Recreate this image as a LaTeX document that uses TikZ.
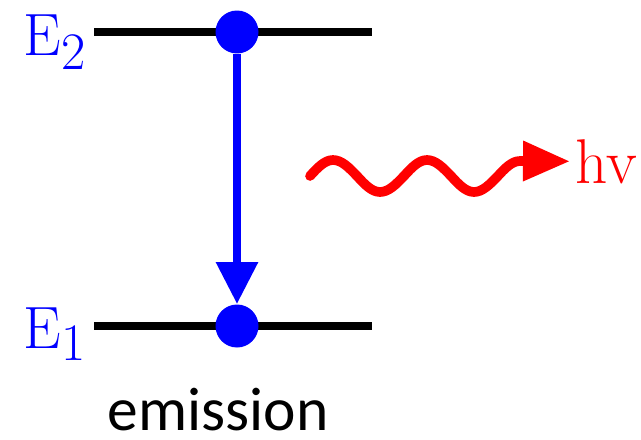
\documentclass[tikz,border=0pt]{standalone}
\definecolor{levelblue}{RGB}{0, 0, 255}
\definecolor{photonred}{RGB}{255, 0, 0}
\usepackage{fontspec}
\newfontfamily\calibri{Carlito}
\usepackage{tikz}
\usetikzlibrary{arrows.meta, positioning}

\begin{document}
\begin{tikzpicture}[x=0.02cm, y=-0.02cm,
        level/.style={line width=4.2pt},
        electron/.style={circle, fill=levelblue, inner sep=0pt, minimum size=0.86cm},
        elabel/.style={text=levelblue, inner sep=0pt, font=\fontsize{34}{34}\selectfont}]
            \useasboundingbox (0,0) rectangle (641,439);
            \coordinate (upL) at (94,32);
            \coordinate (upR) at (372,32);
            \coordinate (lowL) at (94,326);
            \coordinate (lowR) at (372,326);
            \draw[level] (upL) -- (upR);
            \draw[level] (lowL) -- (lowR);
            \node[electron] (up) at (237,32) {};
            \node[electron] (low) at (237,326) {};
            \draw[levelblue, line width=5pt, -{Triangle[length=0.84cm, width=0.8cm]}] (up) -- (low);
            \node[elabel, anchor=base east] (E2) at (86,55) {E\raisebox{-0.3cm}{\fontsize{30}{30}\selectfont 2}};
            \node[elabel, anchor=base east] (E1) at (86,348) {E\raisebox{-0.24cm}{\fontsize{30}{30}\selectfont 1}};
            \node[text=photonred, font=\fontsize{36}{36}\selectfont, anchor=base west, inner sep=3pt] (hv) at (570,183) {hv};
            \coordinate (waveStart) at (310,176);
            \draw[photonred, line width=5.5pt, line cap=round, -{Triangle[length=0.94cm, width=0.76cm]}]
                (waveStart) sin (333,160) cos (357,176) sin (380,192) cos (404,176)
                sin (427,160) cos (451,176) sin (474,192) cos (497,177) sin (520,161) -- (hv.west);
            \node[font=\calibri\fontsize{35}{35}\selectfont, anchor=base, inner sep=0pt] (emis) at (218,430) {emission};
        \end{tikzpicture}
\end{document}
